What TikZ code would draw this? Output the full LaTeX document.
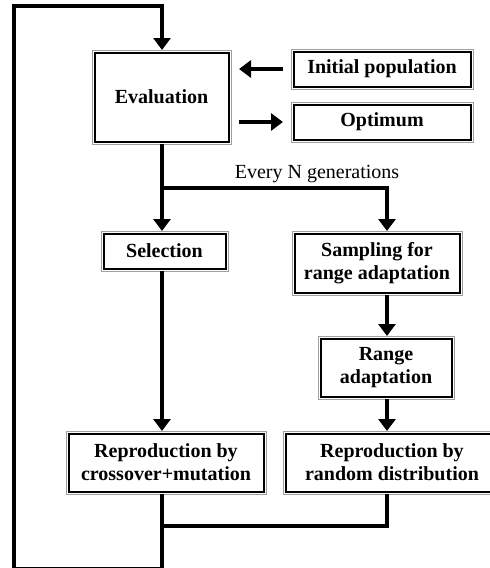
\documentclass[tikz,border=0pt]{standalone}
\usepackage{fontspec}
\setmainfont{Liberation Serif}
\usetikzlibrary{arrows.meta}
\begin{document}
\begin{tikzpicture}[x=1pt,y=-1pt,
  box/.style={draw=black, line width=2pt, fill=white,
    preaction={draw=gray!75, line width=6pt},
    preaction={draw=white, line width=4pt},
    inner sep=0pt, outer sep=2.5pt, align=center,
    font=\fontsize{20}{23}\selectfont\bfseries},
  conn/.style={line width=4pt},
  arr/.style={conn, -{Triangle[length=12pt,width=17pt]}}]
\useasboundingbox (0,0) rectangle (490,568);
\clip (0,0) rectangle (490,568);
% boxes
\node[box, minimum width=134pt, minimum height=89pt] (eval) at (161.5,97) {Evaluation};
\node[box, minimum width=177pt, minimum height=35pt] (init) at (382,69) {Initial population};
\node[box, minimum width=177pt, minimum height=35pt] (opt) at (382,122) {Optimum};
\node[box, minimum width=122pt, minimum height=35pt] (sel) at (164.5,251) {Selection};
\node[box, minimum width=165pt, minimum height=59pt] (samp) at (377,263) {Sampling for\\range adaptation};
\node[box, minimum width=131pt, minimum height=58pt] (range) at (386,367.5) {Range\\adaptation};
\node[box, minimum width=195pt, minimum height=58pt] (repl) at (166,462.5) {Reproduction by\\crossover+mutation};
\node[box, minimum width=213pt, minimum height=58pt] (repr) at (392,462.5) {Reproduction by\\random distribution};
\node[font=\fontsize{20}{23}\selectfont] (lbl) at (317,174) {Every N generations};
% helper coordinates
\coordinate (cx) at (162,0);
\coordinate (rx) at (387,0);
\coordinate (br) at (162,188);
\coordinate (jn) at (162,526);
\coordinate (lb) at (14,568.5);
\coordinate (lt) at (14,6);
% connectors
\draw[arr, shorten <=8pt, shorten >=8pt] (init.west) -- (init.west -| eval.east);
\draw[arr, shorten <=8pt, shorten >=8pt] (eval.east |- opt.west) -- (opt.west);
\draw[conn] (eval.south -| cx) -- (br);
\draw[arr] (br) -- (sel.north -| br);
\draw[arr] (br) -| (samp.north -| rx);
\draw[arr] (sel.south -| cx) -- (repl.north -| cx);
\draw[arr] (samp.south -| rx) -- (range.north -| rx);
\draw[arr] (range.south -| rx) -- (repr.north -| rx);
\draw[conn] (repr.south -| rx) |- (jn);
\draw[arr] (repl.south -| cx) -- (lb -| cx) -- (lb) -- (lt) -- (lt -| cx) -- (eval.north -| cx);
\end{tikzpicture}
\end{document}
